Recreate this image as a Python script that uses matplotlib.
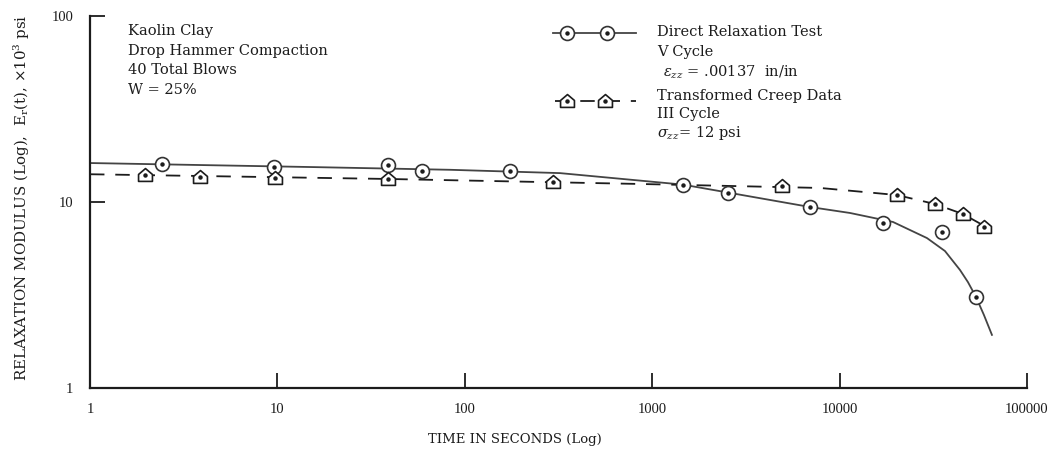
import matplotlib
matplotlib.use("Agg")
import matplotlib.pyplot as plt
from matplotlib.path import Path
from matplotlib.ticker import FixedLocator, FixedFormatter, NullLocator

plt.rcParams['font.family'] = ['Liberation Serif', 'DejaVu Serif']
plt.rcParams['mathtext.fontset'] = 'dejavuserif'

ink = '#1c1c1c'
wide = ['DejaVu Serif']

# measured points, direct relaxation test (V cycle)
relax_t = [2.42, 9.6, 38.9, 59.1, 174, 1459, 2536, 6950, 17050, 35200, 53400]
relax_e = [16.0, 15.4, 15.8, 14.7, 14.7, 12.4, 11.2, 9.4, 7.71, 6.90, 3.09]

# transformed creep data (III cycle)
creep_t = [1.97, 3.86, 9.7, 38.9, 296, 4930, 20240, 32300, 45500, 58900]
creep_e = [14.0, 13.6, 13.5, 13.3, 12.8, 12.2, 10.9, 9.75, 8.62, 7.34]

# hand-drawn fit curves
relax_fit_t = [1, 15.9, 83.4, 322, 1459, 6950, 11360, 19270, 29250, 36500,
               43900, 48400, 53400, 58900, 65000]
relax_fit_e = [16.2, 15.4, 14.9, 14.3, 12.4, 9.4, 8.73, 7.81, 6.40, 5.45,
               4.31, 3.71, 3.09, 2.47, 1.93]
creep_fit_t = [1, 38.9, 861, 7860, 20240, 32300, 45500, 61900]
creep_fit_e = [14.1, 13.3, 12.5, 11.9, 10.9, 9.75, 8.62, 7.25]

x_ticks = [1, 10, 100, 1000, 10000, 100000]
x_tick_labels = ['1', '10', '100', '1000', '10000', '100000']
y_ticks = [1, 10, 100]
y_tick_labels = ['1', '10', '100']

# little house-shaped marker used for the creep points
house = Path([(-1, -0.85), (1, -0.85), (1, 0.15), (0, 1), (-1, 0.15), (-1, -0.85)],
             [Path.MOVETO, Path.LINETO, Path.LINETO, Path.LINETO, Path.LINETO, Path.CLOSEPOLY])

W, H = 1052, 451
fig = plt.figure(figsize=(W / 100, H / 100), dpi=100)
ax = fig.add_axes([90 / W, (H - 388) / H, (1027 - 90) / W, (388 - 16) / H])
ax.set_xscale('log')
ax.set_yscale('log')
ax.set_xlim(1, 100000)
ax.set_ylim(1, 100)

ax.plot(relax_fit_t, relax_fit_e, color='#444444', lw=1.3, zorder=2)
ax.plot(creep_fit_t, creep_fit_e, color=ink, lw=1.3, dashes=(8, 6), zorder=2)

ax.plot(relax_t, relax_e, ls='none', marker='o', ms=10, mfc='white', mec='#333333', mew=1.2, zorder=3)
ax.plot(relax_t, relax_e, ls='none', marker='o', ms=2.2, color=ink, zorder=4)
ax.plot(creep_t, creep_e, ls='none', marker=house, ms=10, mfc='white', mec=ink, mew=1.2, zorder=3)
ax.plot(creep_t, creep_e, ls='none', marker='o', ms=2.2, color=ink, zorder=4)

for s in ['top', 'right']:
    ax.spines[s].set_visible(False)
for s in ['left', 'bottom']:
    ax.spines[s].set_linewidth(1.6)
    ax.spines[s].set_color(ink)

ax.xaxis.set_major_locator(FixedLocator(x_ticks))
ax.xaxis.set_major_formatter(FixedFormatter(x_tick_labels))
ax.yaxis.set_major_locator(FixedLocator(y_ticks))
ax.yaxis.set_major_formatter(FixedFormatter(y_tick_labels))
ax.xaxis.set_minor_locator(NullLocator())
ax.yaxis.set_minor_locator(NullLocator())
ax.tick_params(axis='x', direction='in', length=11, width=1.3, color=ink, pad=11,
               labelsize=10.5, labelcolor=ink)
ax.tick_params(axis='y', direction='in', length=11, width=1.3, color=ink, pad=12,
               labelsize=10.5, labelcolor=ink)

fig.text(515 / W, 1 - 440 / H, 'TIME IN SECONDS (Log)', ha='center', va='center',
         fontsize=9.5, color=ink, family=wide)
fig.text(22 / W, 1 - 198 / H, r'RELAXATION MODULUS (Log),  E$_{\rm r}$(t), $\times$10$^3$ psi',
         rotation=90, ha='center', va='center', fontsize=10.8, color=ink, family=wide)

# sample description
note = ['Kaolin Clay', 'Drop Hammer Compaction', '40 Total Blows', 'W = 25%']
for i, line in enumerate(note):
    fig.text(128 / W, 1 - (31 + 19.7 * i) / H, line, ha='left', va='center',
             fontsize=10.5, color=ink, family=wide)

# legend drawn by hand
leg = fig.add_axes([0, 0, 1, 1], facecolor='none')
leg.set_xlim(0, W)
leg.set_ylim(H, 0)
leg.axis('off')
leg.plot([553, 636], [33, 33], color='#444444', lw=1.3)
leg.plot([567, 607], [33, 33], ls='none', marker='o', ms=10, mfc='white', mec='#333333', mew=1.2)
leg.plot([567, 607], [33, 33], ls='none', marker='o', ms=2.2, color=ink)
leg.plot([555, 636], [101, 101], color=ink, lw=1.3, dashes=(8, 6))
leg.plot([567, 605], [101, 101], ls='none', marker=house, ms=10, mfc='white', mec=ink, mew=1.2)
leg.plot([567, 605], [101, 101], ls='none', marker='o', ms=2.2, color=ink)

legend_lines = [
    (657, 32, 'Direct Relaxation Test'),
    (657, 52, 'V Cycle'),
    (663, 72, r'$\epsilon_{zz}$ = .00137  in/in'),
    (657, 96, 'Transformed Creep Data'),
    (657, 114, 'III Cycle'),
    (657, 133, r'$\sigma_{zz}$= 12 psi'),
]
for x, y, s in legend_lines:
    leg.text(x, y, s, va='center', fontsize=10.5, color=ink, family=wide)

fig.savefig('out.png', dpi=100, facecolor='white')
